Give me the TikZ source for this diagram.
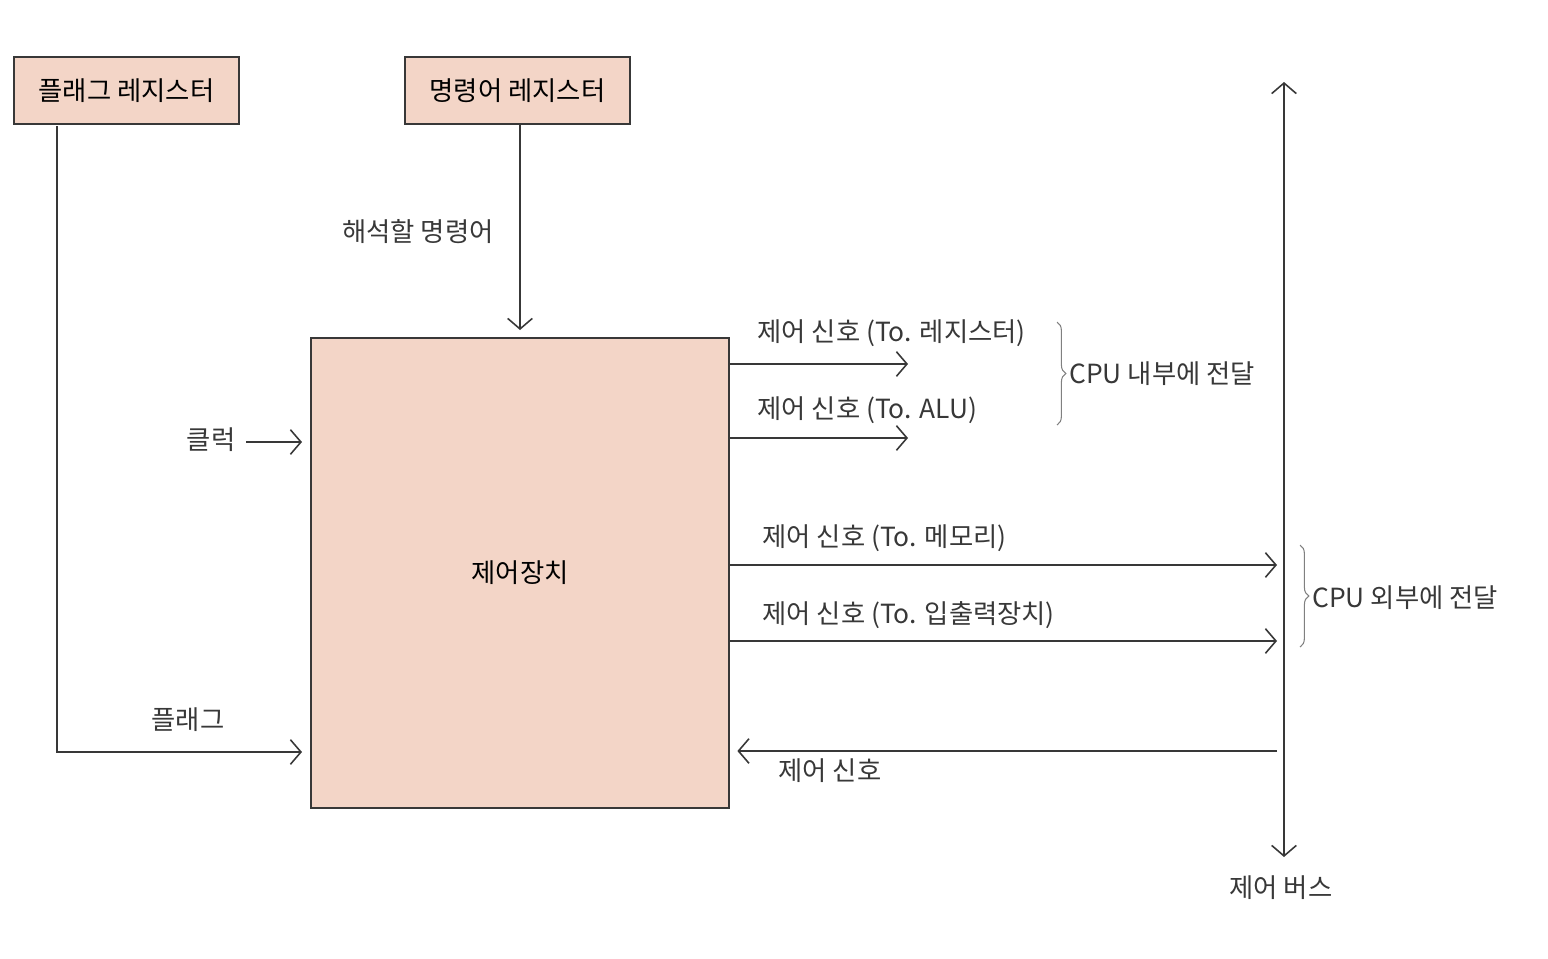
\documentclass[tikz,border=0pt]{standalone}
\usepackage{fontspec}
\setmainfont{Noto Sans CJK KR}
\usetikzlibrary{arrows.meta,positioning,decorations.pathreplacing}
\definecolor{unitfill}{HTML}{F3D5C7}
\definecolor{ink}{HTML}{383838}

\tikzset{
	regbox/.style={draw=ink,line width=1.6pt,fill=unitfill,minimum width=4.5cm,minimum height=1.34cm,inner sep=0pt,font=\fontsize{15}{17}\selectfont},
	sig/.style={draw=ink,line width=0.9pt,-{Straight Barb[length=6pt,width=14pt]}},
	lbl/.style={text=ink,inner sep=0pt,font=\fontsize{15}{17}\selectfont},
	grp/.style={draw=gray,line width=0.6pt,decorate,decoration={brace,amplitude=5pt}}
}

\begin{document}
\begin{tikzpicture}[x=0.02cm,y=-0.02cm]
	\useasboundingbox (0,0) rectangle (1548,958);
	% registers and control unit
	\node[regbox] (flagreg) at (126.5,90.5) {플래그 레지스터};
	\node[regbox] (instreg) at (517.5,90.5) {명령어 레지스터};
	\node[regbox,minimum width=8.36cm,minimum height=9.4cm] (cu) at (520,573) {제어장치};
	% inputs
	\node[lbl] (clk) at (211,440) {클럭};
	\node[lbl] (instlbl) at (418,232) {해석할 명령어};
	\node[lbl] (flaglbl) at (188,720) {플래그};
	\coordinate (flagout) at (57,126);
	\coordinate (flagin) at (302,752);
	\coordinate (instin) at (520,330);
	\coordinate (clkin) at (302,442);
	\draw[sig] (flagout) |- (flagin);
	\draw[sig] (instreg.south -| instin) -- (instin);
	\draw[sig,shorten <=6pt] (clk.east |- clkin) -- (clkin);
	% control bus
	\coordinate (bustop) at (1284,82);
	\coordinate (busbot) at (1284,857);
	\draw[sig,{Straight Barb[length=6pt,width=14pt]}-{Straight Barb[length=6pt,width=14pt]}] (bustop) -- (busbot);
	\node[lbl] (buslbl) at (1281,888) {제어 버스};
	% signals inside the cpu
	\coordinate (toreg) at (908,364);
	\coordinate (toalu) at (908,438);
	\draw[sig] (cu.east |- toreg) -- (toreg);
	\draw[sig] (cu.east |- toalu) -- (toalu);
	\node[lbl,anchor=west] (regsig) at (757,333) {제어 신호 (To. 레지스터)};
	\node[lbl,anchor=west] (alusig) at (757,410) {제어 신호 (To. ALU)};
	\draw[grp] (1057,322) -- (1057,425);
	\node[lbl,anchor=west] (inlbl) at (1069,374) {CPU 내부에 전달};
	% signals outside the cpu
	\coordinate (tomem) at (1277,565);
	\coordinate (toio) at (1277,641);
	\coordinate (frombus) at (1277,751);
	\draw[sig] (cu.east |- tomem) -- (tomem);
	\draw[sig] (cu.east |- toio) -- (toio);
	\draw[sig,shorten >=4pt] (frombus) -- (cu.east |- frombus);
	\node[lbl,anchor=west] (memsig) at (762,538) {제어 신호 (To. 메모리)};
	\node[lbl,anchor=west] (iosig) at (762,615) {제어 신호 (To. 입출력장치)};
	\node[lbl,anchor=west] (backsig) at (778,771) {제어 신호};
	\draw[grp] (1300,545) -- (1300,647);
	\node[lbl,anchor=west] (outlbl) at (1312,598) {CPU 외부에 전달};
\end{tikzpicture}
\end{document}
